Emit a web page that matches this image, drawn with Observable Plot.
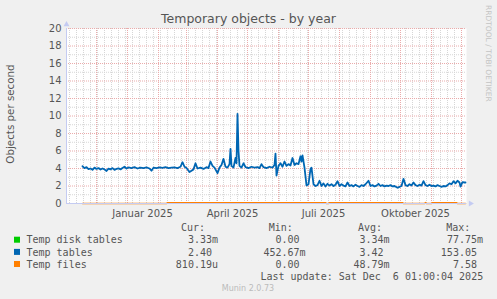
<!DOCTYPE html>
<html><head><meta charset="utf-8">
<script src="https://cdn.jsdelivr.net/npm/d3@7"></script>
<script src="https://cdn.jsdelivr.net/npm/@observablehq/plot@0.6"></script>
<style>
html,body{margin:0;padding:0;background:#f0f0f0;}
#wrap{position:relative;width:497px;height:299px;overflow:hidden;background:#f0f0f0;}
#wrap svg{position:absolute;left:0;top:0;}
</style></head><body><div id="wrap"></div>
<script>
const title = "Temporary objects - by year";
const yLabel = "Objects per second";
const sideText = "RRDTOOL / TOBI OETIKER";
const footer = "Munin 2.0.73";
const lastUpdate = "Last update: Sat Dec  6 01:00:04 2025";
const rangeStart = "2024-11-01";
const rangeEnd = "2025-12-06";
const yTicks = [0, 2, 4, 6, 8, 10, 12, 14, 16, 18, 20];
const xTickDates = ["2025-01-16", "2025-04-16", "2025-07-16", "2025-10-16"];
const xTickLabels = ["Januar 2025", "April 2025", "Juli 2025", "Oktober 2025"];

const seriesNames = ["Temp disk tables", "Temp tables", "Temp files"];
const seriesColors = ["#00cc00", "#0066b3", "#ff8000"];
const statHeaders = ["Cur:", "Min:", "Avg:", "Max:"];
const curValues = ["3.33m", "2.40", "810.19u"];
const minValues = ["0.00", "452.67m", "0.00"];
const avgValues = ["3.34m", "3.42", "48.79m"];
const maxValues = ["77.75m", "153.05", "7.58"];

const diskDates = ["2024-11-17", "2025-12-05"];
const diskValues = [0, 0];

const tablesDates = ["2024-11-17","2024-11-19","2024-11-21","2024-11-23","2024-11-25","2024-11-27","2024-11-29",
"2024-12-01","2024-12-03","2024-12-05","2024-12-07","2024-12-09","2024-12-11","2024-12-13","2024-12-15","2024-12-17","2024-12-19","2024-12-21","2024-12-23","2024-12-25","2024-12-27","2024-12-29","2024-12-31",
"2025-01-02","2025-01-05","2025-01-08","2025-01-11","2025-01-14","2025-01-17","2025-01-20","2025-01-23","2025-01-25","2025-01-27","2025-01-30",
"2025-02-02","2025-02-05","2025-02-08","2025-02-11","2025-02-14","2025-02-17","2025-02-20","2025-02-23","2025-02-25","2025-02-27",
"2025-03-01","2025-03-04","2025-03-06","2025-03-08","2025-03-10","2025-03-12","2025-03-15","2025-03-18","2025-03-21","2025-03-23","2025-03-25","2025-03-27","2025-03-29",
"2025-04-01","2025-04-03","2025-04-05","2025-04-07","2025-04-09","2025-04-11","2025-04-13","2025-04-14","2025-04-15","2025-04-17","2025-04-19","2025-04-20","2025-04-21","2025-04-22","2025-04-23","2025-04-25","2025-04-27","2025-04-29",
"2025-05-02","2025-05-05","2025-05-08","2025-05-11","2025-05-13","2025-05-15","2025-05-17","2025-05-20","2025-05-23","2025-05-26","2025-05-28","2025-05-29","2025-05-30",
"2025-06-01","2025-06-03","2025-06-05","2025-06-07","2025-06-09","2025-06-11","2025-06-13","2025-06-15","2025-06-17","2025-06-19","2025-06-21","2025-06-23","2025-06-24","2025-06-25","2025-06-27","2025-06-29",
"2025-07-01","2025-07-03","2025-07-04","2025-07-06","2025-07-08","2025-07-10","2025-07-12","2025-07-14","2025-07-16","2025-07-18","2025-07-20","2025-07-22","2025-07-24","2025-07-26","2025-07-28","2025-07-30",
"2025-08-01","2025-08-03","2025-08-05","2025-08-07","2025-08-09","2025-08-11","2025-08-13","2025-08-15","2025-08-17","2025-08-19","2025-08-21","2025-08-23","2025-08-25","2025-08-27","2025-08-30",
"2025-09-01","2025-09-03","2025-09-05","2025-09-07","2025-09-09","2025-09-11","2025-09-13","2025-09-15","2025-09-17","2025-09-19","2025-09-21","2025-09-23","2025-09-25","2025-09-28","2025-09-30",
"2025-10-02","2025-10-04","2025-10-06","2025-10-08","2025-10-10","2025-10-12","2025-10-14","2025-10-16","2025-10-18","2025-10-20","2025-10-22","2025-10-24","2025-10-26","2025-10-28","2025-10-30",
"2025-11-01","2025-11-03","2025-11-05","2025-11-07","2025-11-09","2025-11-11","2025-11-13","2025-11-15","2025-11-17","2025-11-19","2025-11-21","2025-11-23","2025-11-25","2025-11-27","2025-11-29","2025-11-30",
"2025-12-02","2025-12-04","2025-12-05"];
const tablesValues = [4.26,4.05,4.15,3.92,4.0,3.85,4.1,
3.95,4.05,3.88,4.0,3.9,3.72,3.98,3.9,4.05,3.85,3.95,4.02,3.9,4.05,4.2,4.0,
4.12,4.05,4.15,4.0,4.1,4.05,4.12,4.0,3.75,4.1,4.05,
4.12,4.08,4.15,4.05,4.1,4.12,4.05,4.2,4.72,4.2,
4.05,3.6,3.75,3.9,4.6,4.0,4.1,3.95,4.15,4.05,4.8,4.3,4.1,
3.47,4.1,4.4,5.1,4.2,4.1,4.5,6.25,4.3,4.1,5.2,4.6,10.25,6.0,4.3,4.1,4.6,4.15,
4.05,4.2,4.1,4.15,4.05,4.5,4.15,4.05,4.2,4.1,4.4,5.7,3.2,
4.3,4.6,4.2,4.8,4.3,4.5,4.35,5.2,4.4,4.6,4.5,5.4,4.8,5.5,4.1,2.06,
2.2,3.97,4.1,2.2,2.0,2.1,2.6,2.0,2.3,1.95,2.25,2.05,2.2,2.0,2.15,2.55,
2.0,2.2,2.05,1.95,2.4,2.0,2.1,1.95,2.15,2.0,1.9,2.1,2.0,2.2,2.6,
2.0,2.1,1.95,2.05,2.25,2.0,2.1,1.95,2.05,2.0,2.1,1.95,2.0,1.8,1.9,
2.0,2.82,2.1,2.0,2.2,2.05,2.4,2.1,2.0,2.15,2.05,2.55,2.1,2.0,2.15,
2.0,2.05,1.95,2.1,2.0,1.9,2.0,1.95,2.1,2.3,2.2,2.55,2.3,2.6,2.4,1.94,
2.45,2.4,2.4];

const filesDates = ["2024-11-17","2025-02-09","2025-02-10","2025-07-18","2025-07-19","2025-07-21","2025-07-22","2025-10-03","2025-10-04","2025-10-25","2025-10-26","2025-10-27","2025-11-01","2025-11-02","2025-11-26","2025-11-27","2025-12-05"];
const filesValues = [0,0,0.1,0.1,0,0,0.1,0.1,0,0,0.1,0,0,0.1,0.1,0,0];

const toRows = (dates, values) => dates.map((d, i) => ({date: new Date(d), value: values[i]}));
const diskRows = toRows(diskDates, diskValues);
const tablesRows = toRows(tablesDates, tablesValues);
const filesRows = toRows(filesDates, filesValues);

const start = new Date(rangeStart), end = new Date(rangeEnd);
const months = d3.utcMonth.range(start, end);
const weeks = d3.utcMonday.range(start, end);
const majorY = yTicks.filter(v => v > 0);
const minorY = yTicks.slice(1).map(v => v - 1);
const axisColor = "#c4cbf2";
const majorGrid = "#eaabab";
const minorGrid = "#d6d6d6";

const chart = Plot.plot({
  width: 497, height: 220,
  marginLeft: 66, marginRight: 31, marginTop: 28, marginBottom: 17,
  style: {background: "transparent", fontFamily: "DejaVu Sans", fontSize: "10px", color: "#555", overflow: "visible"},
  x: {type: "utc", domain: [start, end], label: null},
  y: {domain: [0, 20], label: null},
  marks: [
    Plot.frame({fill: "white", stroke: null}),
    Plot.ruleY(minorY, {stroke: minorGrid, strokeDasharray: "1,1"}),
    Plot.ruleX(weeks, {stroke: minorGrid, strokeDasharray: "1,1"}),
    Plot.ruleY(majorY, {stroke: majorGrid, strokeDasharray: "1,1"}),
    Plot.ruleX(months, {stroke: majorGrid, strokeDasharray: "1,1"}),
    Plot.line(diskRows, {x: "date", y: "value", stroke: seriesColors[0], strokeWidth: 1}),
    Plot.line(tablesRows, {x: "date", y: "value", stroke: seriesColors[1], strokeWidth: 1.8}),
    Plot.line(filesRows, {x: "date", y: "value", stroke: seriesColors[2], strokeWidth: 1.5}),
    Plot.ruleY([0], {stroke: axisColor}),
    Plot.ruleX([start], {stroke: axisColor, y1: 0, y2: 20}),
    Plot.dot({length: 1}, {frameAnchor: "top-left", symbol: "triangle", r: 2.2, fill: axisColor, stroke: null, dy: -4}),
    Plot.dot({length: 1}, {frameAnchor: "bottom-right", symbol: "triangle", r: 2.2, fill: axisColor, stroke: null, rotate: 90, dx: 4}),
    Plot.axisY({ticks: yTicks, tickSize: 0, tickPadding: 5, label: null}),
    Plot.axisX({ticks: xTickDates.map(d => new Date(d)), tickFormat: (d, i) => xTickLabels[i], tickSize: 0, tickPadding: 6, label: null})
  ]
});
document.getElementById("wrap").appendChild(chart);

// Overlay: title, labels, legend
const svg = d3.select("#wrap").append("svg").attr("width", 497).attr("height", 299).style("pointer-events", "none");
svg.append("text").attr("x", 248.5).attr("y", 23).attr("text-anchor", "middle")
  .style("font-family", "DejaVu Sans").style("font-size", "12.5px").attr("fill", "#555").text(title);
svg.append("text").attr("transform", "translate(13.5,114) rotate(-90)").attr("text-anchor", "middle")
  .style("font-family", "DejaVu Sans").style("font-size", "10.3px").attr("fill", "#555").text(yLabel);
svg.append("text").attr("transform", "translate(486,5) rotate(90)").attr("text-anchor", "start")
  .style("font-family", "DejaVu Sans").style("font-size", "7.5px").attr("fill", "#c4c4c4").text(sideText);

const mono = {"font-family": "DejaVu Sans Mono", "font-size": "10px"};
const charW = 6.02;
const headerX = [181, 268.8, 358, 446.2];
const colRight = [218, 305.6, 389.6, 483];
const rowY = [243.3, 255.5, 267.6];
function mtext(x, y, anchor, str) {
  const t = svg.append("text").attr("x", x).attr("y", y).attr("text-anchor", anchor)
    .attr("fill", "#555").style("white-space", "pre").text(str);
  for (const k in mono) t.style(k, mono[k]);
  return t;
}
statHeaders.forEach((h, i) => mtext(headerX[i], 231.2, "start", h));
const cols = [curValues, minValues, avgValues, maxValues];
seriesNames.forEach((name, r) => {
  svg.append("rect").attr("x", 14).attr("y", rowY[r] - 6.6).attr("width", 6).attr("height", 6).attr("fill", seriesColors[r]);
  mtext(26.5, rowY[r], "start", name);
  cols.forEach((col, c) => {
    const s = col[r];
    const hasUnit = /[a-zA-Zµ]$/.test(s);
    mtext(hasUnit ? colRight[c] : colRight[c] - charW, rowY[r], "end", s);
  });
});
mtext(483.2, 279.7, "end", lastUpdate);
svg.append("text").attr("x", 248).attr("y", 290.5).attr("text-anchor", "middle")
  .style("font-family", "DejaVu Sans").style("font-size", "8px").attr("fill", "#bbbbbb").text(footer);
</script>
</body></html>
